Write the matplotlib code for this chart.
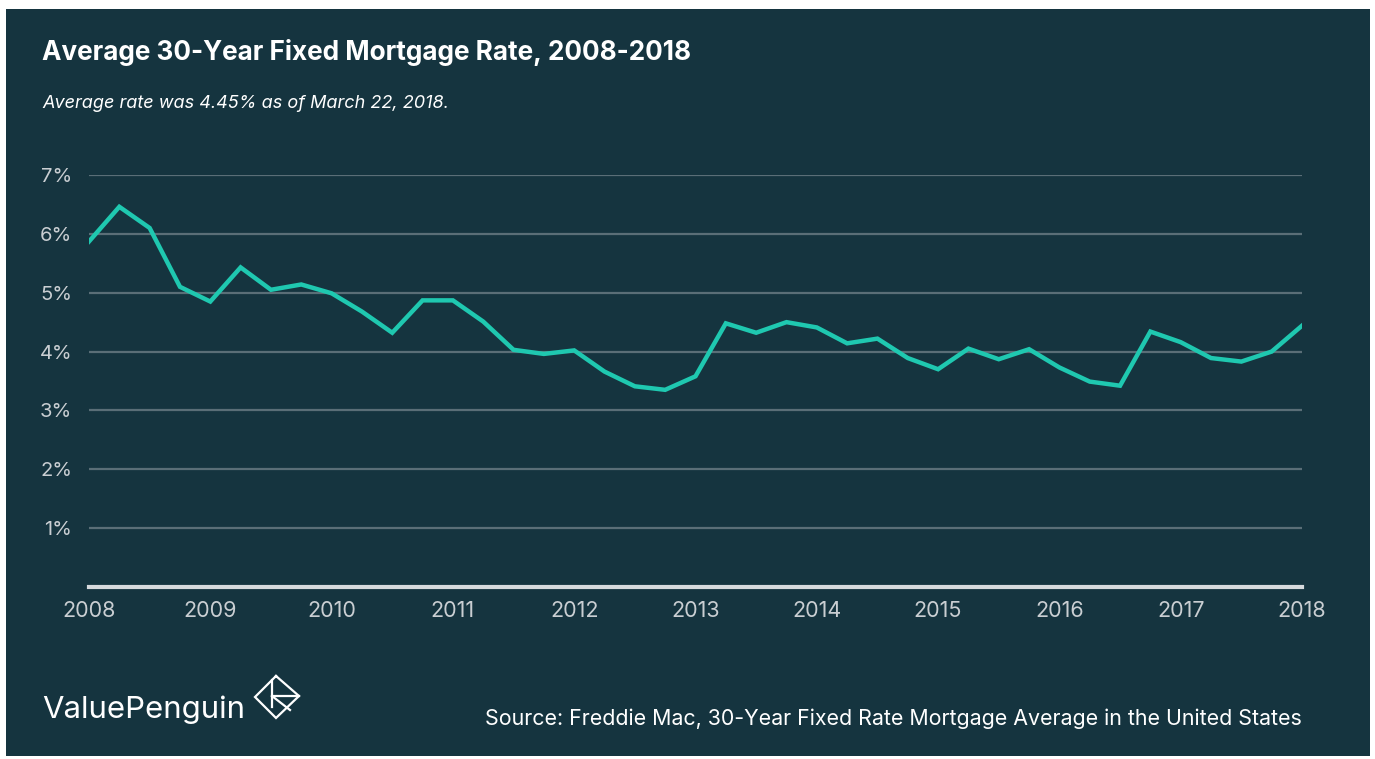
import matplotlib.pyplot as plt
from matplotlib.patches import Rectangle
from matplotlib.lines import Line2D
import numpy as np

# quarterly average 30-year fixed rate
quarters = np.arange(2008, 2018.01, 0.25)
rates = [5.87, 6.46, 6.10, 5.10, 4.85, 5.43, 5.05, 5.14, 4.99, 4.68, 4.32,
         4.87, 4.87, 4.51, 4.03, 3.96, 4.02, 3.66, 3.41, 3.35, 3.58, 4.48,
         4.32, 4.50, 4.41, 4.14, 4.22, 3.89, 3.70, 4.05, 3.87, 4.04, 3.73,
         3.49, 3.42, 4.34, 4.16, 3.89, 3.83, 4.00, 4.44]
years = list(range(2008, 2019))
pct_ticks = [1, 2, 3, 4, 5, 6, 7]

W, H = 1375, 759
BG = '#15343f'
TEAL = '#1fc8b0'
GRID = '#5a6e77'
LABEL = '#c9ced2'

plt.rcParams['font.family'] = ['Inter', 'DejaVu Sans']

fig = plt.figure(figsize=(W / 100, H / 100), dpi=100, facecolor='white')


def fx(x):
    return x / W


def fy(y):
    return 1 - y / H


# dark panel with thin white margin
fig.patches.append(Rectangle((fx(6), fy(756)), fx(1370) - fx(6), fy(9) - fy(756),
                             transform=fig.transFigure, facecolor=BG,
                             edgecolor='none', zorder=-1))

ax = fig.add_axes([fx(89), fy(587), fx(1302) - fx(89), fy(175) - fy(587)])
ax.set_facecolor('none')
ax.plot(quarters, rates, color=TEAL, lw=3.2, solid_joinstyle='miter', zorder=3)

ax.set_xlim(2008, 2018)
ax.set_ylim(0, 7)
ax.set_yticks(pct_ticks)
ax.set_yticklabels([f'{t}%' for t in pct_ticks])
ax.set_xticks(years)
ax.set_xticklabels([str(y) for y in years])
ax.tick_params(length=0, labelcolor=LABEL)
ax.tick_params(axis='y', pad=12, labelsize=14.5)
ax.tick_params(axis='x', pad=10, labelsize=15.5)
ax.grid(axis='y', color=GRID, lw=1.6)
ax.set_axisbelow(True)
for s in ax.spines.values():
    s.set_visible(False)
ax.axhline(0, color='#d6dadd', lw=3, zorder=2, clip_on=False)

fig.text(fx(42), fy(52), 'Average 30-Year Fixed Mortgage Rate, 2008-2018',
         color='white', fontsize=18.8, fontweight='bold', va='center', ha='left')
fig.text(fx(42), fy(103), 'Average rate was 4.45% as of March 22, 2018.',
         color='white', fontsize=13, style='italic', va='center', ha='left')

fig.text(fx(42), fy(710), 'ValuePenguin', color='white', fontsize=22.4,
         va='center', ha='left')
fig.text(fx(1302), fy(719), 'Source: Freddie Mac, 30-Year Fixed Rate Mortgage Average in the United States',
         color='white', fontsize=15.4, va='center', ha='right')

# small logo mark next to the brand name
logo = [
    [(276, 676), (299, 696), (276, 718), (255, 697), (276, 676)],
    [(272, 680), (272, 707)],
    [(272, 696), (299, 696)],
    [(272, 696), (290, 710)],
]
for seg in logo:
    xs = [fx(p[0]) for p in seg]
    ys = [fy(p[1]) for p in seg]
    fig.lines.append(Line2D(xs, ys, transform=fig.transFigure, color='white',
                            lw=1.6, solid_joinstyle='miter'))

fig.savefig('out.png', dpi=100, facecolor='white')
